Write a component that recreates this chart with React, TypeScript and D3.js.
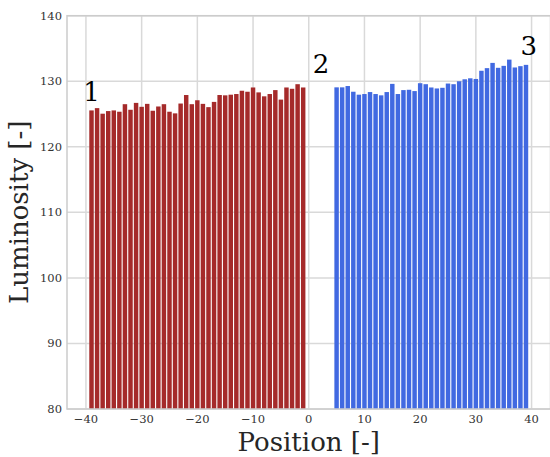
import React from 'react';
import * as d3 from 'd3';

// left segment (red) and right segment (blue)
const redPositions = [-39, -38, -37, -36, -35, -34, -33, -32, -31, -30, -29, -28, -27, -26, -25, -24, -23, -22, -21, -20,
  -19, -18, -17, -16, -15, -14, -13, -12, -11, -10, -9, -8, -7, -6, -5, -4, -3, -2, -1];
const redValues = [125.55, 125.9, 125.05, 125.45, 125.55, 125.35, 126.5, 125.65, 126.7, 126.1, 126.55, 125.5, 126.15, 126.5,
  125.35, 125.1, 126.6, 127.9, 126.5, 127.1, 126.55, 126.05, 126.85, 127.9, 127.85, 127.95, 128.05, 128.55, 128.4,
  129.05, 128.3, 127.7, 128.05, 128.65, 127.2, 129.05, 128.85, 129.55, 129.05];

const bluePositions = [5, 6, 7, 8, 9, 10, 11, 12, 13, 14, 15, 16, 17, 18, 19, 20, 21, 22, 23, 24, 25, 26, 27, 28, 29, 30,
  31, 32, 33, 34, 35, 36, 37, 38, 39];
const blueValues = [129.07, 129.07, 129.27, 128.4, 127.95, 128.05, 128.35, 128.05, 127.85, 128.35, 129.6, 128.05, 128.65,
  128.7, 128.5, 129.7, 129.55, 129.05, 128.9, 129.0, 129.65, 129.55, 130.0, 130.3, 130.45, 130.35, 131.6, 132.0, 132.8,
  132.05, 132.35, 133.3, 132.1, 132.3, 132.5];

const xTicks = [-40, -30, -20, -10, 0, 10, 20, 30, 40];
const yTicks = [80, 90, 100, 110, 120, 130, 140];

// annotations: [x, y, label]
const notes: [number, number, string][] = [[-40.5, 127, '1'], [0.7, 131.3, '2'], [38, 134, '3']];

const W = 550;
const H = 457;
const left = 67;
const right = 550.5;
const top = 15.7;
const bottom = 409;
const serif = '"DejaVu Serif", serif';

export default function App() {
  const x = d3.scaleLinear().domain([-43.4, 43.4]).range([left, right]);
  const y = d3.scaleLinear().domain([80, 140]).range([bottom, top]);
  const barW = x(0.8) - x(0);
  const fmt = d3.format('d');

  const bars = (pos: number[], vals: number[], color: string) =>
    pos.map((p, i) => (
      <rect key={color + p} x={x(p) - barW / 2} y={y(vals[i])} width={barW}
        height={y(80) - y(vals[i])} fill={color} />
    ));

  return (
    <svg width={W} height={H} style={{ position: 'absolute', left: 0, top: 0 }}>
      <rect x={0} y={0} width={W} height={H} fill="white" />
      {/* grid */}
      {yTicks.map((t) => (
        <line key={'gy' + t} x1={left} x2={right} y1={y(t)} y2={y(t)} stroke="#d9d9d9" strokeWidth={1.5} />
      ))}
      {xTicks.map((t) => (
        <line key={'gx' + t} x1={x(t)} x2={x(t)} y1={top} y2={bottom} stroke="#d9d9d9" strokeWidth={1.5} />
      ))}
      {bars(redPositions, redValues, '#a52a2a')}
      {bars(bluePositions, blueValues, '#4169e1')}
      <rect x={left} y={top} width={right - left} height={bottom - top} fill="none" stroke="#cccccc" strokeWidth={1.5} />
      {/* tick labels */}
      {yTicks.map((t) => (
        <text key={'ty' + t} x={left - 5} y={y(t)} dy="0.35em" textAnchor="end" fontFamily={serif}
          fontSize={11.5} fill="#333">{fmt(t)}</text>
      ))}
      {xTicks.map((t) => (
        <text key={'tx' + t} x={x(t)} y={bottom + 6} dy="0.71em" textAnchor="middle" fontFamily={serif}
          fontSize={11.5} fill="#333">{fmt(t)}</text>
      ))}
      {notes.map(([nx, ny, s]) => (
        <text key={'n' + s} x={x(nx)} y={y(ny)} fontFamily={serif} fontSize={26} fill="#000">{s}</text>
      ))}
      <text x={(left + right) / 2} y={451} textAnchor="middle" fontFamily={serif} fontSize={26} fill="#262626">
        Position [-]
      </text>
      <text transform={`translate(27.5,${(top + bottom) / 2}) rotate(-90)`} textAnchor="middle" fontFamily={serif}
        fontSize={26} fill="#262626">
        Luminosity [-]
      </text>
    </svg>
  );
}
